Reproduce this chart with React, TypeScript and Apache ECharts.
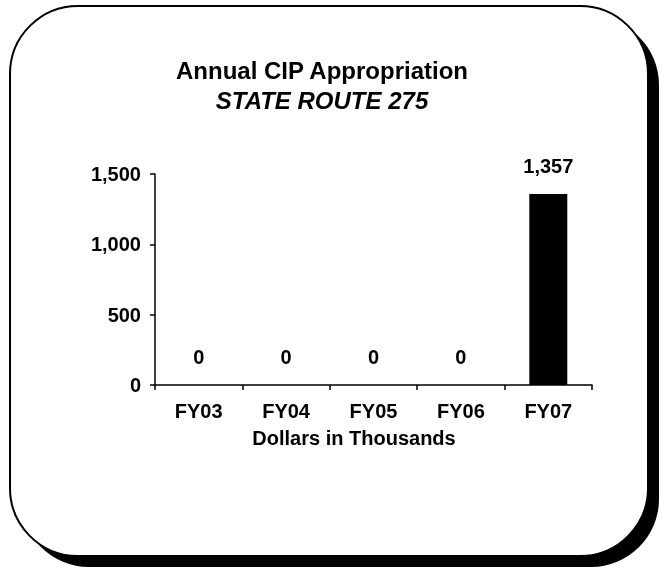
import React, { useEffect, useRef } from "react";
import * as echarts from "echarts";

const categories = ["FY03", "FY04", "FY05", "FY06", "FY07"];
const values = [0, 0, 0, 0, 1357];
const yTicks = [0, 500, 1000, 1500];
const titleLine1 = "Annual CIP Appropriation";
const titleLine2 = "STATE ROUTE 275";
const axisName = "Dollars in Thousands";

const FONT = "'Liberation Sans', Arial, Helvetica, sans-serif";
const fmt = (v: number) => Number(v).toLocaleString("en-US");

export default function App() {
  const ref = useRef<HTMLDivElement>(null);
  useEffect(() => {
    const chart = echarts.init(ref.current!, null, { renderer: "svg" });
    chart.setOption({
      animation: false,
      textStyle: { fontFamily: FONT },
      graphic: [
        {
          type: "rect",
          z: -20,
          shape: { x: 21, y: 17, width: 638, height: 550, r: 68 },
          style: { fill: "#000" },
        },
        {
          type: "rect",
          z: -19,
          shape: { x: 10, y: 6, width: 638, height: 550, r: 68 },
          style: { fill: "#fff", stroke: "#000", lineWidth: 2 },
        },
        {
          type: "text",
          x: 322,
          y: 70,
          style: {
            text: titleLine1,
            fontSize: 24,
            fontWeight: "bold",
            fontFamily: FONT,
            fill: "#000",
            align: "center",
            textAlign: "center",
            verticalAlign: "middle",
            textVerticalAlign: "middle",
          },
        },
        {
          type: "text",
          x: 322,
          y: 100,
          style: {
            text: titleLine2,
            fontSize: 24,
            fontWeight: "bold",
            fontStyle: "italic",
            fontFamily: FONT,
            fill: "#000",
            align: "center",
            textAlign: "center",
            verticalAlign: "middle",
            textVerticalAlign: "middle",
          },
        },
        {
          type: "text",
          x: 354,
          y: 438,
          style: {
            text: axisName,
            fontSize: 20,
            fontWeight: "bold",
            fontFamily: FONT,
            fill: "#000",
            align: "center",
            textAlign: "center",
            verticalAlign: "middle",
            textVerticalAlign: "middle",
          },
        },
      ],
      grid: { left: 155, top: 174, right: 76, bottom: 192 },
      xAxis: {
        type: "category",
        data: categories,
        axisLine: { show: true, lineStyle: { color: "#000", width: 1.5 } },
        axisTick: {
          show: true,
          alignWithLabel: false,
          length: 5,
          lineStyle: { color: "#000", width: 1.5 },
        },
        axisLabel: {
          color: "#000",
          fontSize: 20,
          fontWeight: "bold",
          fontFamily: FONT,
          margin: 16,
        },
      },
      yAxis: {
        type: "value",
        min: yTicks[0],
        max: yTicks[yTicks.length - 1],
        interval: yTicks[1] - yTicks[0],
        axisLine: { show: true, lineStyle: { color: "#000", width: 1.5 } },
        axisTick: { show: true, length: 5, lineStyle: { color: "#000", width: 1.5 } },
        splitLine: { show: false },
        axisLabel: {
          color: "#000",
          fontSize: 20,
          fontWeight: "bold",
          fontFamily: FONT,
          margin: 14,
          formatter: (v: number) => fmt(v),
        },
      },
      series: [
        {
          type: "bar",
          data: values,
          barWidth: 38,
          itemStyle: { color: "#000" },
          label: {
            show: true,
            position: "top",
            distance: 18,
            color: "#000",
            fontSize: 20,
            fontWeight: "bold",
            fontFamily: FONT,
            formatter: (p: any) => fmt(p.value),
          },
        },
      ],
    });
    return () => chart.dispose();
  }, []);
  return (
    <div
      ref={ref}
      style={{ position: "fixed", left: 0, top: 0, width: 668, height: 577 }}
    />
  );
}
